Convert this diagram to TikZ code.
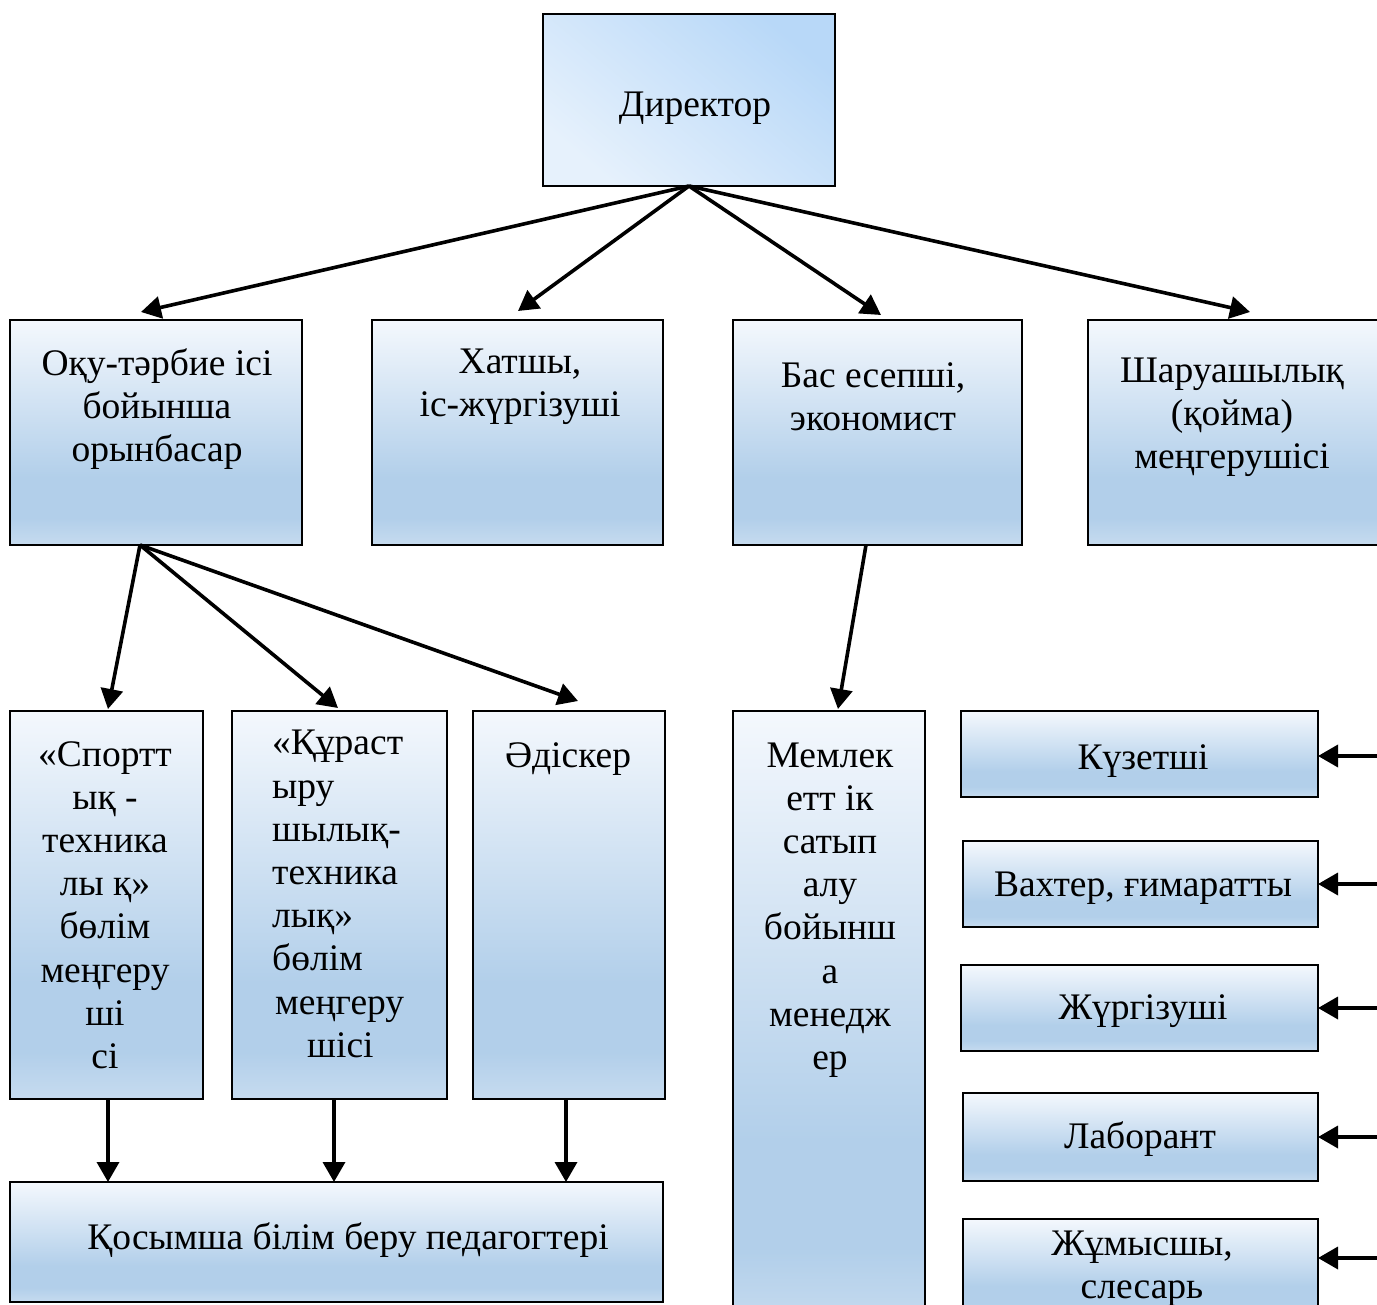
\documentclass[tikz,border=0pt]{standalone}
\usepackage{fontspec}
\setmainfont{Liberation Serif}
\usetikzlibrary{arrows.meta,calc}
\definecolor{bxtop}{HTML}{F4F8FD}
\definecolor{bxmid}{HTML}{B2CFEA}
\definecolor{bxbot}{HTML}{C6DBEF}
\definecolor{dtop}{HTML}{B8D8F8}
\definecolor{dbot}{HTML}{E6F1FC}
\pgfdeclareverticalshading{boxshade}{100bp}{color(0bp)=(bxbot); color(25bp)=(bxbot); color(31bp)=(bxmid); color(40bp)=(bxmid); color(75bp)=(bxtop); color(100bp)=(bxtop)}
\newcommand{\bx}[6][]{\node[boxst,#1,minimum width={(#5-#3)*1pt},minimum height={(#6-#4)*1pt}] (#2) at ({(#3+#5)/2},{(#4+#6)/2}) {};}
\begin{document}
\begin{tikzpicture}[x=1pt,y=-1pt,
  boxst/.style={draw=black,line width=1.5pt,shading=boxshade,inner sep=0pt,outer sep=0pt},
  txt/.style={font=\fontsize{37.5}{43.2}\selectfont,align=center,inner sep=0pt},
  arr/.style={line width=3.6pt,-{Triangle[length=20pt,width=22pt]}}]
\useasboundingbox[fill=white] (0,0) rectangle (1377,1305);
% boxes
\bx[top color=dbot,bottom color=dtop,shading angle=140]{dir}{543}{14}{835}{186}
\bx{ot}{10}{320}{302}{545}
\bx{xt}{372}{320}{663}{545}
\bx{bs}{733}{320}{1022}{545}
\bx{sh}{1088}{320}{1392}{545}
\bx{sp}{10}{711}{203}{1099}
\bx{kb}{232}{711}{447}{1099}
\bx{ad}{473}{711}{665}{1099}
\bx{mg}{733}{711}{925}{1325}
\bx{qb}{10}{1182}{663}{1302}
\bx{kz}{961}{711}{1318}{797}
\bx{vx}{963}{841}{1318}{927}
\bx{jg}{961}{965}{1318}{1051}
\bx{lb}{963}{1093}{1318}{1181}
\bx{jm}{963}{1219}{1318}{1315}
% texts
\node[txt] (tdir) at (695,108) {Директор};
\node[txt] (tot) at (157,409) {Оқу-тәрбие ісі\\бойынша\\орынбасар};
\node[txt] (txt2) at (520,387) {Хатшы,\\іс-жүргізуші};
\node[txt] (tbs) at (873,397) {Бас есепші,\\экономист};
\node[txt] (tsh) at (1232,417) {Шаруашылық\\(қойма)\\меңгерушісі};
\node[txt] (tsp) at (105,905) {«Спортт\\ық -\\техника\\лы қ»\\бөлім\\меңгеру\\ші\\сі};
\node[txt,align=left,anchor=west] (tkb) at (272,894) {«Құраст\\ыру\\шылық-\\техника\\лық»\\бөлім\\\hspace*{3pt}меңгеру\\\hspace*{35pt}шісі};
\node[txt] (tad) at (568,759) {Әдіскер};
\node[txt] (tmg) at (830,910) {Мемлек\\етт ік\\сатып\\алу\\бойынш\\а\\менедж\\ер};
\node[txt] (tqb) at (348,1240) {Қосымша білім беру педагогтері};
\node[txt] (tkz) at (1143,761) {Күзетші};
\node[txt] (tvx) at (1143,888) {Вахтер, ғимаратты};
\node[txt] (tjg) at (1143,1011) {Жүргізуші};
\node[txt] (tlb) at (1140,1139) {Лаборант};
\node[txt] (tjm) at (1142,1269) {Жұмысшы,\\слесарь};
% arrows from director
\draw[arr] (dir.south) -- ([xshift=-15pt,yshift=8pt]ot.north);
\draw[arr] (dir.south) -- ([xshift=0.5pt,yshift=9pt]xt.north);
\draw[arr] (dir.south) -- ([xshift=3.5pt,yshift=5pt]bs.north);
\draw[arr] (dir.south) -- ([xshift=10pt,yshift=8pt]sh.north);
% from deputy
\draw[arr] ([xshift=-16pt]ot.south) -- ([xshift=1.5pt,yshift=2pt]sp.north);
\draw[arr] ([xshift=-16pt]ot.south) -- ([xshift=-1.5pt,yshift=3pt]kb.north);
\draw[arr] ([xshift=-16pt]ot.south) -- ([xshift=9pt,yshift=10pt]ad.north);
\draw[arr] ([xshift=-11.5pt]bs.south) -- ([xshift=9pt,yshift=2pt]mg.north);
% down to bottom box
\draw[arr] ([xshift=1.5pt]sp.south) -- ([xshift=1.5pt]sp.south |- qb.north);
\draw[arr] ([xshift=-5.5pt]kb.south) -- ([xshift=-5.5pt]kb.south |- qb.north);
\draw[arr] ([xshift=-3pt]ad.south) -- ([xshift=-3pt]ad.south |- qb.north);
% right side arrows
\draw[arr] ([xshift=70pt,yshift=-2pt]kz.east) -- ([yshift=-2pt]kz.east);
\draw[arr] ([xshift=70pt]vx.east) -- (vx.east);
\draw[arr] ([xshift=70pt]jg.east) -- (jg.east);
\draw[arr] ([xshift=70pt]lb.east) -- (lb.east);
\draw[arr] ([xshift=70pt,yshift=9pt]jm.east) -- ([yshift=9pt]jm.east);
\end{tikzpicture}
\end{document}
